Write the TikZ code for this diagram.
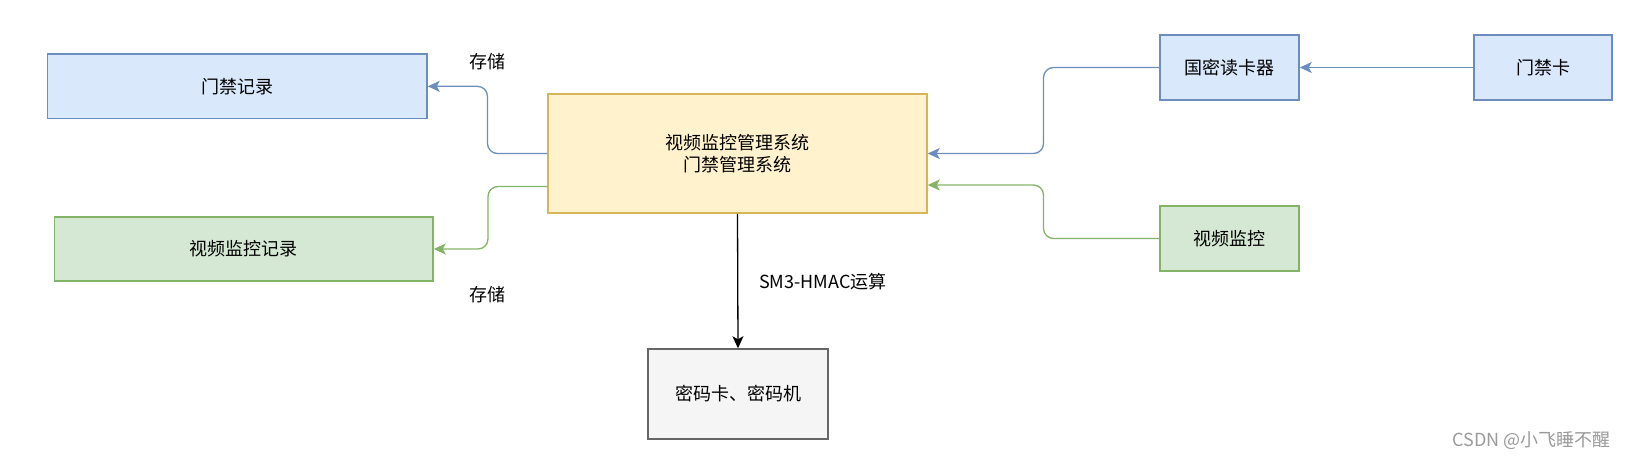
\documentclass[tikz,border=0pt]{standalone}
\usepackage{fontspec}
\setmainfont{Noto Sans CJK SC}
\usetikzlibrary{arrows.meta}
\definecolor{bfill}{HTML}{DAE8FC}
\definecolor{bline}{HTML}{6C8EBF}
\definecolor{gfill}{HTML}{D5E8D4}
\definecolor{gline}{HTML}{82B366}
\definecolor{yfill}{HTML}{FFF2CC}
\definecolor{yline}{HTML}{D6B656}
\definecolor{kfill}{HTML}{F5F5F5}
\definecolor{kline}{HTML}{666666}
\definecolor{wm}{HTML}{9A9A9A}
\tikzset{
  box/.style={draw, line width=1.5pt, inner sep=0pt, align=center,
    font=\fontsize{18}{22}\selectfont},
  bluebox/.style={box, fill=bfill, draw=bline},
  greenbox/.style={box, fill=gfill, draw=gline},
  yellowbox/.style={box, fill=yfill, draw=yline},
  graybox/.style={box, fill=kfill, draw=kline},
  conn/.style={line width=1.3pt, rounded corners=10pt,
    -{Stealth[length=12pt,width=11pt,inset=3pt]}},
  lbl/.style={font=\fontsize{18}{22}\selectfont, inner sep=0pt}
}
\begin{document}
\begin{tikzpicture}[x=1pt,y=-1pt]
\useasboundingbox (0,0) rectangle (1626,460);
\node[bluebox, minimum width=379.5pt, minimum height=64.7pt] (rec1) at (237.25,86.35) {门禁记录};
\node[greenbox, minimum width=378.4pt, minimum height=64.3pt] (rec2) at (243.8,249) {视频监控记录};
\node[yellowbox, minimum width=379pt, minimum height=119pt] (sys) at (737.5,153.5) {视频监控管理系统\\门禁管理系统};
\node[bluebox, minimum width=139pt, minimum height=65pt] (reader) at (1229.5,67.5) {国密读卡器};
\node[bluebox, minimum width=138pt, minimum height=65pt] (card) at (1543,67.5) {门禁卡};
\node[greenbox, minimum width=139pt, minimum height=65pt] (video) at (1229.5,238.5) {视频监控};
\node[graybox, minimum width=180pt, minimum height=90pt] (crypto) at (738,394) {密码卡、密码机};

\coordinate (gout) at ([yshift=-33pt]sys.west);
\coordinate (gin) at ([yshift=-31.5pt]sys.east);

\draw[conn, bline] (sys.west) -- (487.5,153.5) |- (rec1.east);
\draw[conn, gline] (gout) -- (488,186.5) |- (rec2.east);
\draw[conn, bline] (reader.west) -- (1043.5,67.5) |- (sys.east);
\draw[conn, gline] (video.west) -- (1043.5,238.5) |- (gin);
\draw[conn, bline] (card.west) -- (reader.east);
\draw[conn, black] (sys.south) -- (crypto.north);

\node[lbl] (s1) at (487.5,62) {存储};
\node[lbl] (s2) at (487.5,295) {存储};
\node[lbl, anchor=west] (hmac) at (759,282) {SM3-HMAC运算};
\node[lbl, text=wm, anchor=east] (wmk) at (1611,441) {CSDN @小飞睡不醒};
\end{tikzpicture}
\end{document}
